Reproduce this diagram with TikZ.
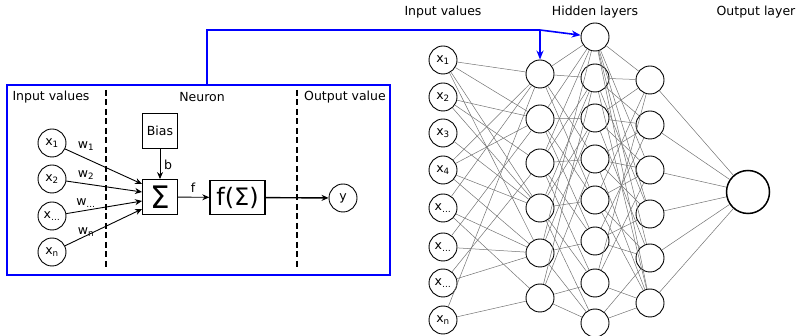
\documentclass[tikz,border=0pt]{standalone}
\usepackage{fontspec}
\setmainfont{DejaVu Sans}
\usetikzlibrary{arrows.meta,calc}
\begin{document}
\begin{tikzpicture}[x=1pt,y=-1pt,
  lab/.style={font=\fontsize{12.5}{14}\selectfont, inner sep=0pt},
  neu/.style={circle,draw,line width=0.9pt,minimum size=28pt,inner sep=0pt,font=\fontsize{12.5}{14}\selectfont},
  netline/.style={draw=black!55, line width=0.5pt},
  arr/.style={-{Stealth[length=7pt,width=6pt]}, line width=0.9pt},
  blueline/.style={draw=blue, line width=1.6pt},
  bluearr/.style={blueline, -{Stealth[length=9pt,width=7pt]}},
  dashsep/.style={line width=2.6pt, dash pattern=on 6pt off 3.5pt},
  sqbox/.style={draw, line width=0.9pt, inner sep=0pt}
]
\useasboundingbox (0,0) rectangle (798,336);

% ---------- single neuron panel ----------
\node[draw=blue, line width=1.6pt, minimum width=383pt, minimum height=190pt, inner sep=0pt] (panel) at (198.5,180) {};
\node[lab] (hin) at (51,97) {Input values};
\node[lab] (hneu) at (202,97) {Neuron};
\node[lab] (hout) at (345,97) {Output value};

\coordinate (d1t) at (106,90); \coordinate (d1b) at (106,268);
\coordinate (d2t) at (297,90); \coordinate (d2b) at (297,268);
\draw[dashsep] (d1t) -- (d1b);
\draw[dashsep] (d2t) -- (d2b);

\node[neu] (a1) at (52,143) {x\textsubscript{1}};
\node[neu] (a2) at (52,179) {x\textsubscript{2}};
\node[neu] (a3) at (52,216) {x\textsubscript{…}};
\node[neu] (a4) at (52,252) {x\textsubscript{n}};

\node[sqbox, minimum width=35pt, minimum height=35pt, font=\fontsize{31}{31}\selectfont] (sig) at (160,197) {Σ};
\node[sqbox, minimum width=35pt, minimum height=35pt, font=\fontsize{12.5}{14}\selectfont] (bias) at (160,130.5) {Bias};
\node[sqbox, line width=1.4pt, minimum width=55pt, minimum height=34pt, font=\fontsize{24}{24}\selectfont] (fs) at (237.5,197.5) {f(Σ)};
\node[neu] (yo) at (343,198) {y};

\coordinate (s1) at ($(sig.west)+(0,-13)$);
\coordinate (s2) at ($(sig.west)+(0,-5)$);
\coordinate (s3) at ($(sig.west)+(0,4)$);
\coordinate (s4) at ($(sig.west)+(0,12)$);
\draw[arr] (a1) -- (s1);
\draw[arr] (a2) -- (s2);
\draw[arr] (a3) -- (s3);
\draw[arr] (a4) -- (s4);
\node[lab] (w1) at (86,146) {w\textsubscript{1}};
\node[lab] (w2) at (86,175) {w\textsubscript{2}};
\node[lab] (w3) at (86,203) {w\textsubscript{…}};
\node[lab] (w4) at (86,232) {w\textsubscript{n}};

\draw[arr] (bias) -- (sig);
\node[lab] (lb) at (168,165) {b};
\draw[arr] (sig) -- (fs);
\node[lab] (lf) at (193,188) {f};
\draw[arr, line width=1.4pt] (fs) -- (yo);

% ---------- network ----------
\node[lab] (ninp) at (443,12) {Input values};
\node[lab] (nhid) at (595,12) {Hidden layers};
\node[lab] (nout) at (756,12) {Output layer};

\foreach \i/\y/\t in {1/60/1,2/97/2,3/133/3,4/170/4,5/208/…,6/247/…,7/283/…,8/320/n}
  \node[neu] (i\i) at (443,\y) {x\textsubscript{\t}};
\foreach \i/\y in {1/74,2/119,3/163,4/208,5/253,6/298}
  \node[neu] (h\i) at (540,\y) {};
\foreach \i/\y in {1/37,2/78,3/118,4/159,5/200,6/241,7/283,8/323}
  \node[neu] (g\i) at (595,\y) {};
\foreach \i/\y in {1/80,2/125,3/170,4/214,5/258,6/303}
  \node[neu] (k\i) at (650,\y) {};
\node[neu, minimum size=43pt, line width=1.5pt] (out) at (748,192) {};

\foreach \a/\b in {1/1,1/2,1/4,1/5, 2/2,2/3,2/4, 3/4, 4/1,4/2,4/4,4/5, 5/1,5/5,5/6, 6/2,6/5, 7/3,7/5, 8/1,8/6}
  \draw[netline] (i\a) -- (h\b);
\foreach \a/\b in {1/1,1/2,1/4,1/5, 2/1,2/3,2/5,2/6, 3/1,3/2,3/4,3/6,3/7, 4/2,4/3,4/5,4/7,4/8, 5/1,5/3,5/6,5/8, 6/2,6/4,6/7,6/8}
  \draw[netline] (h\a) -- (g\b);
\foreach \a/\b in {1/1,1/3,1/4,1/5,1/6, 2/1,2/2,2/4,2/6, 3/1,3/2,3/3,3/5, 4/2,4/3,4/4,4/6, 5/1,5/3,5/5,5/6, 6/2,6/4,6/5, 7/1,7/3,7/6, 8/5,8/6}
  \draw[netline] (g\a) -- (k\b);
\foreach \a in {1,...,6}
  \draw[netline] (k\a) -- (out);

% ---------- blue link ----------
\coordinate (c0) at (207,85);
\coordinate (c1) at (207,30);
\coordinate (c2) at (540,30);
\draw[blueline] (c0) -- (c1) -- (c2);
\draw[bluearr] (c2) -- (h1);
\draw[bluearr] (c2) -- (g1);
\end{tikzpicture}
\end{document}
